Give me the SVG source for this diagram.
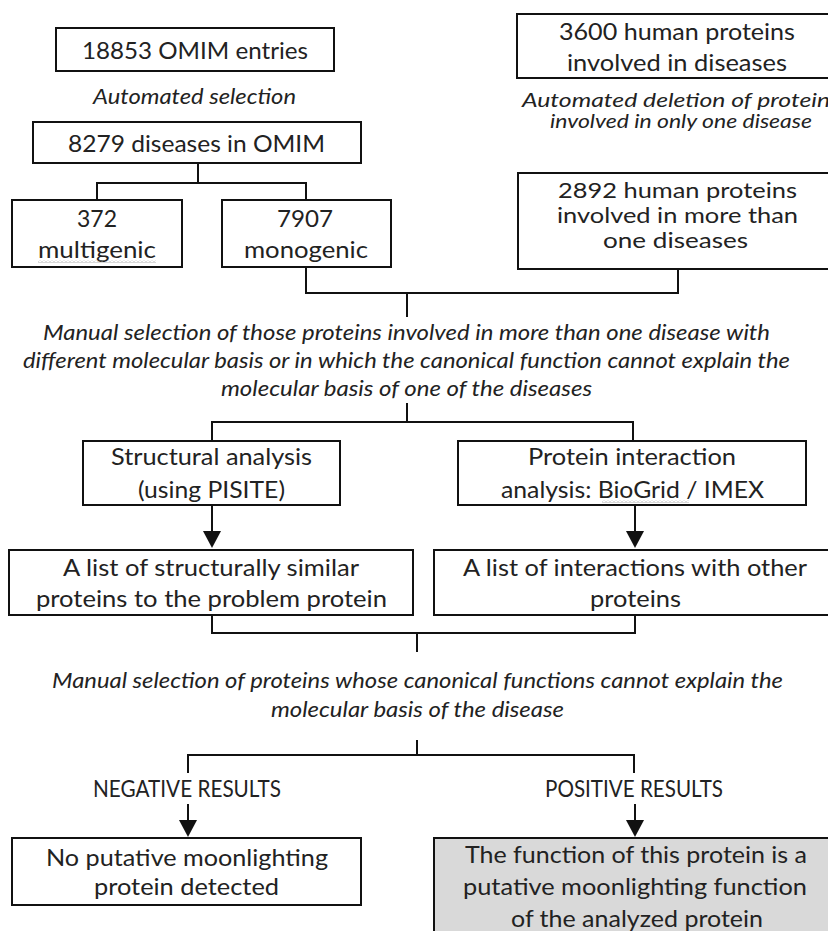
<svg xmlns="http://www.w3.org/2000/svg" width="828" height="931" viewBox="0 0 828 931">
<style>
.box{fill:#fff;stroke:#111;stroke-width:2}
.gray{fill:#d9d9d9}
.t{font-family:Lato,"Open Sans",sans-serif;font-size:24px;fill:#222;text-anchor:middle}
.s{font-size:21px}
.i{font-family:Lato,"Open Sans",sans-serif;font-size:22px;font-style:italic;fill:#222;text-anchor:middle}
.si{font-size:19px}
.c{fill:none;stroke:#111;stroke-width:2}
.wavy{fill:url(#zig)}
</style>
<defs>
<marker id="arr" markerUnits="userSpaceOnUse" markerWidth="18" markerHeight="18" refX="9" refY="9" orient="auto">
<path d="M0,0 L17,9 L0,18 z" fill="#111"/>
</marker>
<pattern id="zig" patternUnits="userSpaceOnUse" width="4" height="3">
<path d="M0,2.5 L2,0.5 L4,2.5" fill="none" stroke="#a0a0a0" stroke-width="0.8"/>
</pattern>
</defs>
<rect width="828" height="931" fill="#fff"/>

<g id="connectors">
<path class="c" d="M198,163 V183 M97,200 V183 H306 V200"/>
<path class="c" d="M306,267 V293 H678 V269 M407,293 V317"/>
<path class="c" d="M407,403 V422 M212,442 V422 H633 V441"/>
<path class="c" d="M212,505 V540" marker-end="url(#arr)"/>
<path class="c" d="M635,505 V540" marker-end="url(#arr)"/>
<path class="c" d="M212,615 V633 H635 V615 M417,633 V652"/>
<path class="c" d="M417,740 V755 M188,773 V755 H634 V773"/>
<path class="c" d="M188,804 V829" marker-end="url(#arr)"/>
<path class="c" d="M635,804 V829" marker-end="url(#arr)"/>
</g>

<g id="omim-entries">
<rect class="box" x="56" y="28" width="278" height="43"/>
<text class="t" x="195" y="59" textLength="226" lengthAdjust="spacingAndGlyphs">18853 OMIM entries</text>
</g>
<g id="label-automated-selection">
<text class="i" x="194.5" y="104" textLength="203" lengthAdjust="spacingAndGlyphs">Automated selection</text>
</g>
<g id="diseases-omim">
<rect class="box" x="33" y="122" width="328" height="41"/>
<text class="t" x="196.5" y="152" textLength="257" lengthAdjust="spacingAndGlyphs">8279 diseases in OMIM</text>
</g>
<g id="multigenic">
<rect class="box" x="12" y="200" width="170" height="67"/>
<text class="t" x="97" y="227" textLength="40" lengthAdjust="spacingAndGlyphs">372</text>
<text class="t" x="97" y="258" textLength="118" lengthAdjust="spacingAndGlyphs">multigenic</text>
<rect class="wavy" x="38" y="260" width="118" height="3"/>
</g>
<g id="monogenic">
<rect class="box" x="222" y="200" width="169" height="67"/>
<text class="t" x="305" y="227" textLength="56" lengthAdjust="spacingAndGlyphs">7907</text>
<text class="t" x="306" y="258" textLength="124" lengthAdjust="spacingAndGlyphs">monogenic</text>
</g>
<g id="proteins-3600">
<rect class="box" x="517" y="14" width="320" height="64"/>
<text class="t" x="677" y="40" textLength="236" lengthAdjust="spacingAndGlyphs">3600 human proteins</text>
<text class="t" x="677" y="71" textLength="220" lengthAdjust="spacingAndGlyphs">involved in diseases</text>
</g>
<g id="label-automated-deletion">
<text class="i si" x="681" y="107" textLength="318" lengthAdjust="spacingAndGlyphs">Automated deletion of proteins</text>
<text class="i si" x="681" y="128" textLength="262" lengthAdjust="spacingAndGlyphs">involved in only one disease</text>
</g>
<g id="proteins-2892">
<rect class="box" x="518" y="173" width="320" height="96"/>
<text class="t s" x="677.5" y="198" textLength="239" lengthAdjust="spacingAndGlyphs">2892 human proteins</text>
<text class="t s" x="677.5" y="223" textLength="241" lengthAdjust="spacingAndGlyphs">involved in more than</text>
<text class="t s" x="675.5" y="248" textLength="145" lengthAdjust="spacingAndGlyphs">one diseases</text>
</g>
<g id="label-manual-selection-1">
<text class="i" x="406.5" y="340" textLength="727" lengthAdjust="spacingAndGlyphs">Manual selection of those proteins involved in more than one disease with</text>
<text class="i" x="406.5" y="368" textLength="767" lengthAdjust="spacingAndGlyphs">different molecular basis or in which the canonical function cannot explain the</text>
<text class="i" x="406.5" y="396" textLength="371" lengthAdjust="spacingAndGlyphs">molecular basis of one of the diseases</text>
</g>
<g id="structural-analysis">
<rect class="box" x="83" y="441" width="257" height="64"/>
<text class="t" x="211.5" y="465" textLength="201" lengthAdjust="spacingAndGlyphs">Structural analysis</text>
<text class="t" x="211.5" y="498" textLength="147" lengthAdjust="spacingAndGlyphs">(using PISITE)</text>
</g>
<g id="interaction-analysis">
<rect class="box" x="458" y="441" width="348" height="64"/>
<text class="t" x="632" y="465" textLength="208" lengthAdjust="spacingAndGlyphs">Protein interaction</text>
<text class="t" x="632.5" y="498" textLength="263" lengthAdjust="spacingAndGlyphs">analysis: BioGrid / IMEX</text>
<rect class="wavy" x="602" y="500" width="87" height="3"/>
</g>
<g id="similar-proteins">
<rect class="box" x="9" y="550" width="404" height="65"/>
<text class="t" x="211" y="576" textLength="296" lengthAdjust="spacingAndGlyphs">A list of structurally similar</text>
<text class="t" x="211.5" y="607" textLength="351" lengthAdjust="spacingAndGlyphs">proteins to the problem protein</text>
</g>
<g id="interactions-list">
<rect class="box" x="434" y="550" width="404" height="65"/>
<text class="t" x="635" y="576" textLength="344" lengthAdjust="spacingAndGlyphs">A list of interactions with other</text>
<text class="t" x="635.5" y="607" textLength="91" lengthAdjust="spacingAndGlyphs">proteins</text>
</g>
<g id="label-manual-selection-2">
<text class="i" x="417.5" y="688" textLength="731" lengthAdjust="spacingAndGlyphs">Manual selection of proteins whose canonical functions cannot explain the</text>
<text class="i" x="417.5" y="717" textLength="293" lengthAdjust="spacingAndGlyphs">molecular basis of the disease</text>
</g>
<g id="label-negative">
<text class="t" x="187" y="797" textLength="188" lengthAdjust="spacingAndGlyphs">NEGATIVE RESULTS</text>
</g>
<g id="label-positive">
<text class="t" x="634" y="797" textLength="178" lengthAdjust="spacingAndGlyphs">POSITIVE RESULTS</text>
</g>
<g id="no-moonlighting">
<rect class="box" x="12" y="838" width="349" height="67"/>
<text class="t" x="187" y="866" textLength="282" lengthAdjust="spacingAndGlyphs">No putative moonlighting</text>
<text class="t" x="186.5" y="895" textLength="185" lengthAdjust="spacingAndGlyphs">protein detected</text>
</g>
<g id="putative-moonlighting">
<rect class="box gray" x="434" y="838" width="406" height="110"/>
<text class="t" x="636" y="863" textLength="342" lengthAdjust="spacingAndGlyphs">The function of this protein is a</text>
<text class="t" x="635" y="895" textLength="344" lengthAdjust="spacingAndGlyphs">putative moonlighting function</text>
<text class="t" x="637" y="927" textLength="252" lengthAdjust="spacingAndGlyphs">of the analyzed protein</text>
</g>
</svg>
